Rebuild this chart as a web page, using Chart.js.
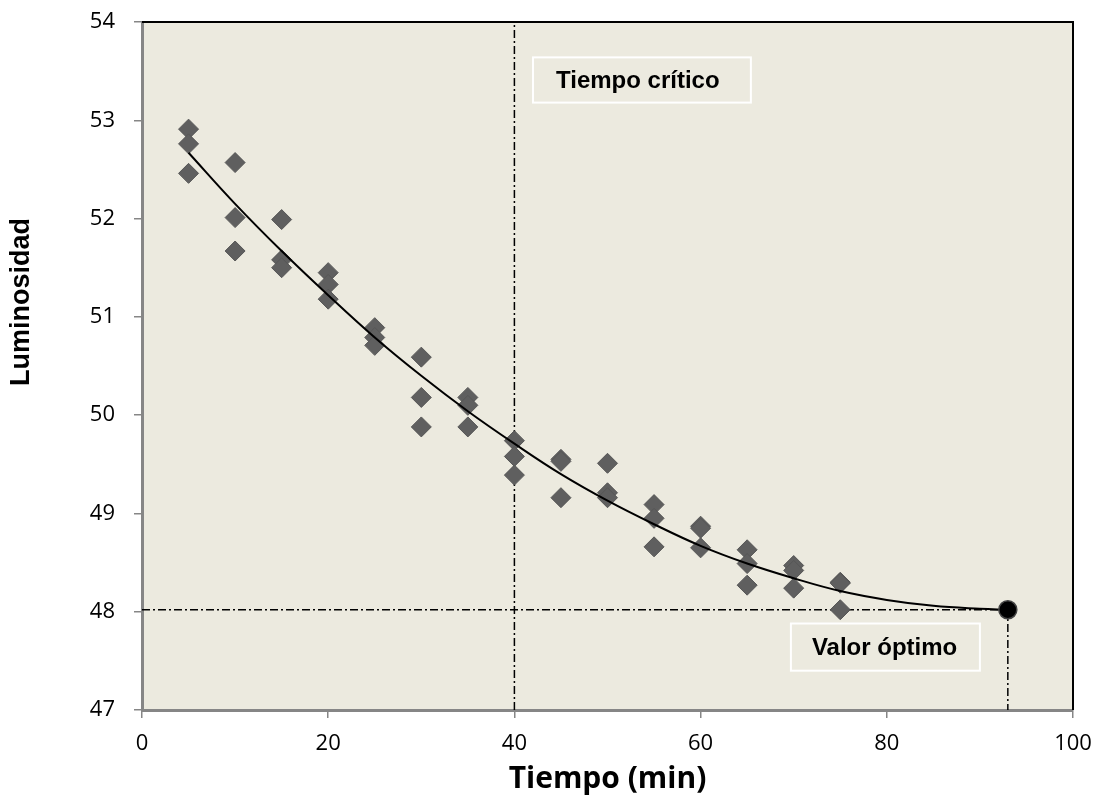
<!DOCTYPE html>
<html>
<head>
<meta charset="utf-8">
<script src="https://cdn.jsdelivr.net/npm/chart.js@4.4.1/dist/chart.umd.min.js"></script>
<style>
  html, body { margin: 0; padding: 0; background: #fff; }
  #wrap { width: 1103px; height: 802px; }
</style>
</head>
<body>
<div id="wrap"><canvas id="lumChart"></canvas></div>
<script>
// tiempos de muestreo (min) y tres réplicas de luminosidad
const times = [5, 10, 15, 20, 25, 30, 35, 40, 45, 50, 55, 60, 65, 70, 75];
const rep1 = [52.91, 52.57, 51.99, 51.45, 50.89, 50.59, 50.18, 49.74, 49.55, 49.51, 49.09, 48.87, 48.63, 48.47, 48.30];
const rep2 = [52.76, 52.01, 51.58, 51.33, 50.79, 50.18, 50.10, 49.58, 49.53, 49.21, 48.95, 48.85, 48.49, 48.42, 48.29];
const rep3 = [52.46, 51.67, 51.50, 51.18, 50.71, 49.88, 49.88, 49.39, 49.16, 49.16, 48.66, 48.65, 48.27, 48.24, 48.02];

// curva de tendencia
const trendX = [5, 10, 15, 20, 25, 30, 35, 40, 45, 50, 55, 60, 65, 70, 75, 80, 85, 90, 93];
const trendY = [52.67, 52.15, 51.67, 51.22, 50.79, 50.40, 50.04, 49.71, 49.40, 49.13, 48.89, 48.67, 48.49, 48.34, 48.21, 48.12, 48.06, 48.03, 48.02];

const criticalTime = 40;
const optimumTime = 93;
const optimumValue = 48.02;

const xTicks = [0, 20, 40, 60, 80, 100];
const yTicks = [47, 48, 49, 50, 51, 52, 53, 54];

const scatterPts = [];
times.forEach(function (t, i) {
    scatterPts.push({ x: t, y: rep1[i] });
    scatterPts.push({ x: t, y: rep2[i] });
    scatterPts.push({ x: t, y: rep3[i] });
});
const trendPts = trendX.map(function (x, i) { return { x: x, y: trendY[i] }; });

const dashDot = [8, 3, 2, 3];
const plotBg = '#ECEADF';

// fondo, bordes, cuadros de texto y título del eje Y
const decor = {
    id: 'decor',
    beforeDraw(chart) {
        const a = chart.chartArea, c = chart.ctx;
        c.save();
        c.fillStyle = plotBg;
        c.fillRect(a.left, a.top, a.right - a.left, a.bottom - a.top);
        c.restore();
    },
    afterDatasetsDraw(chart) {
        const c = chart.ctx, xs = chart.scales.x, ys = chart.scales.y, a = chart.chartArea;
        c.save();
        c.strokeStyle = '#000';
        c.lineWidth = 2;
        c.beginPath();
        c.moveTo(a.left, a.top);
        c.lineTo(a.right, a.top);
        c.lineTo(a.right, a.bottom);
        c.stroke();

        function box(x0, x1, y0, y1, text, inset) {
            const l = xs.getPixelForValue(x0), r = xs.getPixelForValue(x1);
            const t = ys.getPixelForValue(y0), b = ys.getPixelForValue(y1);
            c.fillStyle = plotBg;
            c.fillRect(l, t, r - l, b - t);
            c.strokeStyle = '#fff';
            c.lineWidth = 2;
            c.strokeRect(l, t, r - l, b - t);
            c.fillStyle = '#000';
            c.font = 'bold 24px "Liberation Sans", Arial, sans-serif';
            c.textAlign = 'left';
            c.textBaseline = 'middle';
            c.fillText(text, l + inset, (t + b) / 2 + 1);
        }
        box(42.0, 65.4, 53.64, 53.18, 'Tiempo crítico', 23);
        box(69.7, 90.0, 47.88, 47.40, 'Valor óptimo', 21);

        c.translate(22, 302);
        c.rotate(-Math.PI / 2);
        c.fillStyle = '#000';
        c.font = 'bold 27px "Liberation Sans", Arial, sans-serif';
        c.textAlign = 'center';
        c.textBaseline = 'middle';
        c.fillText('Luminosidad', 0, 0);
        c.restore();
    }
};

const ctx = document.getElementById('lumChart').getContext('2d');
new Chart(ctx, {
    type: 'scatter',
    data: {
        datasets: [
            {
                label: 'Óptimo',
                data: [{ x: optimumTime, y: optimumValue }],
                pointStyle: 'circle',
                pointRadius: 9,
                backgroundColor: '#000',
                borderColor: '#444',
                borderWidth: 1.5,
                order: 0
            },
            {
                label: 'Tendencia',
                data: trendPts,
                showLine: true,
                tension: 0.4,
                borderColor: '#000',
                borderWidth: 2,
                pointRadius: 0,
                order: 1
            },
            {
                label: 'Luminosidad',
                data: scatterPts,
                pointStyle: 'rectRot',
                pointRadius: 10,
                backgroundColor: '#5F5F5F',
                borderColor: '#575757',
                borderWidth: 1,
                order: 2
            },
            {
                label: 'Tiempo crítico',
                data: [{ x: criticalTime, y: yTicks[0] }, { x: criticalTime, y: yTicks[yTicks.length - 1] }],
                showLine: true,
                borderColor: '#000',
                borderWidth: 1.5,
                borderDash: dashDot,
                pointRadius: 0,
                order: 3
            },
            {
                label: 'Valor óptimo',
                data: [{ x: xTicks[0], y: optimumValue }, { x: optimumTime, y: optimumValue }, { x: optimumTime, y: yTicks[0] }],
                showLine: true,
                tension: 0,
                borderColor: '#000',
                borderWidth: 1.5,
                borderDash: dashDot,
                pointRadius: 0,
                order: 3
            }
        ]
    },
    options: {
        responsive: true,
        maintainAspectRatio: false,
        animation: false,
        layout: { padding: { top: 22, right: 30, left: 0, bottom: 0 } },
        plugins: {
            legend: { display: false },
            tooltip: { enabled: false }
        },
        scales: {
            x: {
                type: 'linear',
                min: xTicks[0],
                max: xTicks[xTicks.length - 1],
                afterFit: function (s) { s.height = 92; s.paddingLeft = 0; s.paddingRight = 0; },
                afterBuildTicks: function (s) { s.ticks = xTicks.map(function (v) { return { value: v }; }); },
                grid: { drawOnChartArea: false, drawTicks: true, tickLength: 8, color: '#868686', lineWidth: 1.5 },
                border: { display: true, color: '#868686', width: 3 },
                ticks: {
                    color: '#000',
                    padding: 13,
                    maxRotation: 0,
                    font: { family: '"Open Sans", sans-serif', size: 22 }
                },
                title: {
                    display: true,
                    text: 'Tiempo (min)',
                    color: '#000',
                    padding: { top: 0, bottom: 5 },
                    font: { family: '"Open Sans", sans-serif', size: 30, weight: 'bold' }
                }
            },
            y: {
                type: 'linear',
                min: yTicks[0],
                max: yTicks[yTicks.length - 1],
                afterFit: function (s) { s.width = 142; s.paddingTop = 0; s.paddingBottom = 0; },
                afterBuildTicks: function (s) { s.ticks = yTicks.map(function (v) { return { value: v }; }); },
                grid: { drawOnChartArea: false, drawTicks: true, tickLength: 8, color: '#868686', lineWidth: 1.5 },
                border: { display: true, color: '#868686', width: 3 },
                ticks: {
                    color: '#000',
                    padding: 19,
                    font: { family: '"Open Sans", sans-serif', size: 22 }
                }
            }
        }
    },
    plugins: [decor]
});
</script>
</body>
</html>
